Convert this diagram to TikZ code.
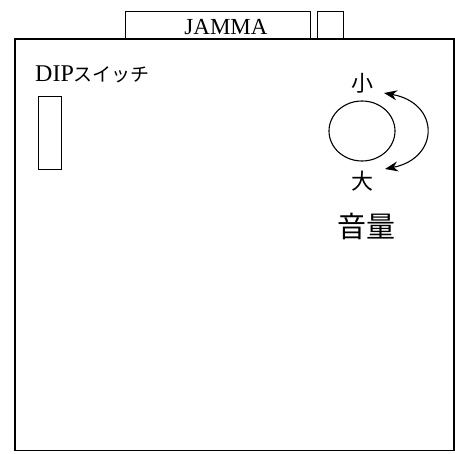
\documentclass[tikz,border=0pt]{standalone}
\usepackage{fontspec}
\setmainfont{Liberation Serif}
\newfontfamily\jpfont{Noto Sans CJK JP}
\usetikzlibrary{arrows.meta,shapes.geometric}
\begin{document}
\begin{tikzpicture}[x=1pt, y=1pt]
    \useasboundingbox (0,0) rectangle (455,453);
    % Draw board
    \node[draw, line width=1.5pt, inner sep=0pt, minimum width=439pt, minimum height=411pt, anchor=south west] (board) at (14,2) {};

    % Draw connectors on top edge
    \node[draw, line width=1.1pt, inner sep=0pt, minimum width=185pt, minimum height=28pt, anchor=south west] (jamma) at (125,413) {};
    \node[draw, line width=1.1pt, inner sep=0pt, minimum width=26pt, minimum height=28pt, anchor=south west] (aux) at (317,413) {};
    \node[inner sep=0pt] (jamma text) at (226,426) {\fontsize{23}{23}\selectfont JAMMA};

    % Draw DIP switch
    \node[anchor=base west, inner sep=0pt] (dip text) at (35,371) {\fontsize{24}{24}\selectfont DIP{\jpfont\fontsize{19}{19}\selectfont スイッチ}};
    \node[draw, line width=1.1pt, inner sep=0pt, minimum width=23pt, minimum height=73pt, anchor=south west] (dip) at (38,283) {};

    % Draw volume knob
    \node[ellipse, draw, line width=1.1pt, inner sep=0pt, minimum width=66pt, minimum height=60pt] (knob) at (362,322) {};
    \node (min) at (362,370) {\jpfont\fontsize{22}{22}\selectfont 小};
    \node (max) at (362,272) {\jpfont\fontsize{22}{22}\selectfont 大};
    \node (volume) at (366,227) {\jpfont\fontsize{29}{29}\selectfont 音量};

    % Draw turning arrow
    \coordinate (vol min) at (384,360);
    \coordinate (vol max) at (385,284);
    \draw[line width=1.1pt, {Stealth[length=13pt,width=10pt]}-{Stealth[length=13pt,width=10pt]}] (vol min) .. controls (440,350) and (440,295) .. (vol max);
\end{tikzpicture}
\end{document}
